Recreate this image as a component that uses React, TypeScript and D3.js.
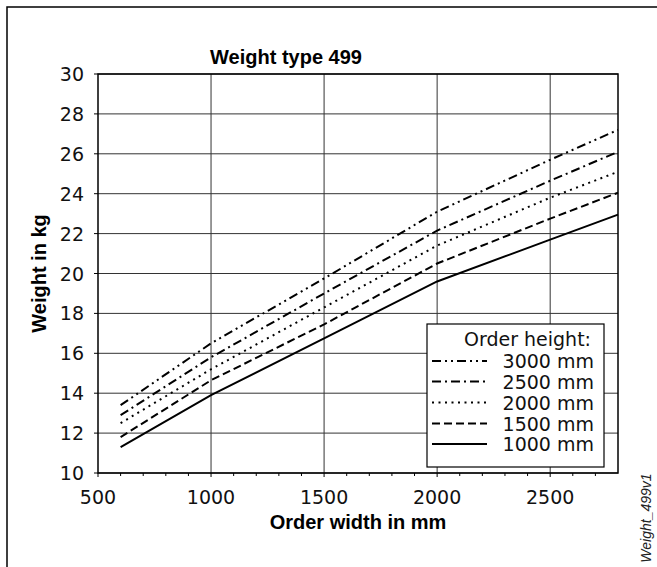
import React from "react";
import * as d3 from "d3";

const widths = [600, 1000, 1500, 2000, 2500, 2800];
const seriesNames = ["3000 mm", "2500 mm", "2000 mm", "1500 mm", "1000 mm"];
const h3000 = [13.4, 16.5, 19.75, 23.1, 25.7, 27.2];
const h2500 = [12.9, 15.8, 19.0, 22.15, 24.65, 26.1];
const h2000 = [12.5, 15.2, 18.3, 21.4, 23.8, 25.1];
const h1500 = [11.8, 14.65, 17.45, 20.5, 22.75, 24.05];
const h1000 = [11.3, 13.9, 16.75, 19.6, 21.7, 22.95];
const xTicks = [500, 1000, 1500, 2000, 2500];
const yTicks = [10, 12, 14, 16, 18, 20, 22, 24, 26, 28, 30];

const seriesValues = [h3000, h2500, h2000, h1500, h1000];
const dashes = ["9,4,2,4,2,4", "9,4,2,4", "2,4.5", "8,4", ""];

const FONT = "'DejaVu Sans', Verdana, sans-serif";
const BOLD = "'Liberation Sans', Arial, Helvetica, sans-serif";

export default function App() {
  const W = 657, H = 567;
  const left = 98, right = 618, top = 74, bottom = 473;
  const x = d3.scaleLinear().domain([500, 2800]).range([left, right]);
  const y = d3.scaleLinear().domain([10, 30]).range([bottom, top]);
  const line = d3.line<[number, number]>().x(d => x(d[0])).y(d => y(d[1]));
  const minor = d3.range(600, 2800, 100).filter(v => v % 500 !== 0);

  const legX = 427, legY = 324, legW = 177, legH = 143;
  const rowY = [361, 381.5, 402.5, 423.5, 444];

  return (
    <svg width={W} height={H} style={{ position: "absolute", left: 0, top: 0, background: "#fff" }} fontFamily={FONT}>
      <rect x={0} y={0} width={W} height={H} fill="#fff" />
      <rect x={7} y={7} width={W + 20} height={H + 20} fill="none" stroke="#000" strokeWidth={1.5} />
      {/* grid */}
      {yTicks.map(v => (
        <line key={"gy" + v} x1={left} x2={right} y1={y(v)} y2={y(v)} stroke="#333" strokeWidth={1} />
      ))}
      {xTicks.filter(v => v !== 500).map(v => (
        <line key={"gx" + v} x1={x(v)} x2={x(v)} y1={top} y2={bottom} stroke="#333" strokeWidth={1} />
      ))}
      {/* plot frame */}
      <rect x={left} y={top} width={right - left} height={bottom - top} fill="none" stroke="#000" strokeWidth={1.5} />
      {/* y ticks */}
      {yTicks.map(v => (
        <g key={"yt" + v}>
          <line x1={left - 4} x2={left} y1={y(v)} y2={y(v)} stroke="#000" strokeWidth={1} />
          <text x={left - 14} y={y(v) + 7} textAnchor="end" fontSize={19} fill="#111">{v}</text>
        </g>
      ))}
      {/* x ticks */}
      {xTicks.map(v => (
        <g key={"xt" + v}>
          <line x1={x(v)} x2={x(v)} y1={bottom} y2={bottom + 4} stroke="#000" strokeWidth={1} />
          <text x={x(v)} y={bottom + 31} textAnchor="middle" fontSize={19} fill="#111">{v}</text>
        </g>
      ))}
      {minor.map(v => (
        <line key={"mt" + v} x1={x(v)} x2={x(v)} y1={bottom} y2={bottom + 3} stroke="#000" strokeWidth={1} />
      ))}
      {/* series */}
      {seriesValues.map((vals, i) => (
        <path
          key={"s" + i}
          d={line(widths.map((w, j) => [w, vals[j]] as [number, number])) || ""}
          fill="none"
          stroke="#000"
          strokeWidth={2}
          strokeDasharray={dashes[i] || undefined}
        />
      ))}
      {/* legend */}
      <rect x={legX} y={legY} width={legW} height={legH} fill="#fff" stroke="#000" strokeWidth={1.2} />
      <text x={591} y={346} textAnchor="end" fontSize={19} fill="#111">Order height:</text>
      {seriesNames.map((n, i) => (
        <g key={"l" + i}>
          <line x1={432} x2={487} y1={rowY[i]} y2={rowY[i]} stroke="#000" strokeWidth={2} strokeDasharray={dashes[i] || undefined} />
          <text x={594} y={rowY[i] + 7} textAnchor="end" fontSize={19} fill="#111">{n}</text>
        </g>
      ))}
      {/* titles */}
      <text x={286} y={64} textAnchor="middle" fontSize={20} fontWeight="bold" fontFamily={BOLD} fill="#000">Weight type 499</text>
      <text x={(left + right) / 2} y={529} textAnchor="middle" fontSize={20} fontWeight="bold" fontFamily={BOLD} fill="#000">Order width in mm</text>
      <text transform={`translate(46,${(top + bottom) / 2}) rotate(-90)`} textAnchor="middle" fontSize={20} fontWeight="bold" fontFamily={BOLD} fill="#000">Weight in kg</text>
      <text transform={`translate(651,518) rotate(-90)`} textAnchor="middle" fontSize={14} fontStyle="italic" fontFamily={BOLD} fill="#222">Weight_499v1</text>
    </svg>
  );
}
